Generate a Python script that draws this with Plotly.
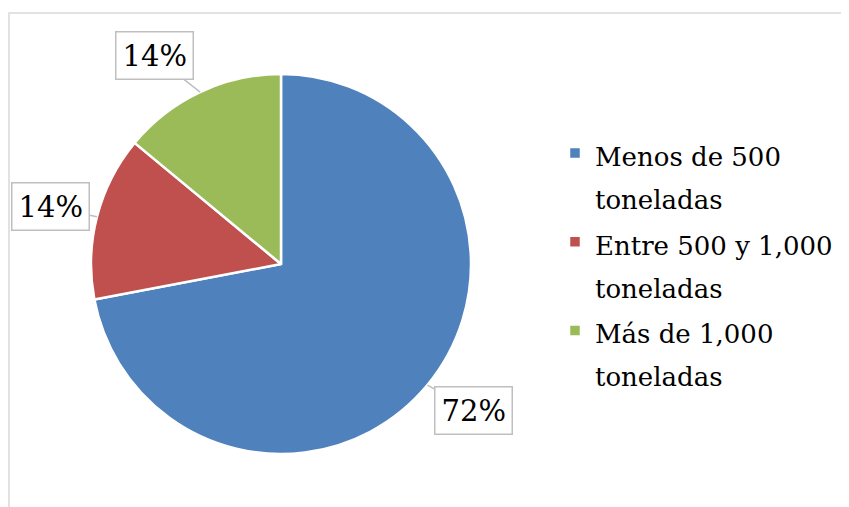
import math
import plotly.graph_objects as go

categories = ["Menos de 500<br>toneladas", "Entre 500 y 1,000<br>toneladas", "Más de 1,000<br>toneladas"]
values = [72, 14, 14]
colors = ["#4F81BD", "#C0504D", "#9BBB59"]

W, H = 849, 507
OFF = 8  # page body margin
# pie geometry (pixels, figure coords)
cx, cy, r = 281 - OFF, 264 - OFF, 190
dom_x = [(cx - r) / W, (cx + r) / W]
dom_y = [1 - (cy + r) / H, 1 - (cy - r) / H]

FONT = "DejaVu Serif"
LEG_SIZE = 26

legend_labels = [f"<span style='font-size:{LEG_SIZE}px'>{c}</span>" for c in categories]

fig = go.Figure()
fig.add_trace(go.Pie(
    labels=legend_labels, values=values, sort=False, direction="clockwise", rotation=0,
    marker=dict(colors=colors, line=dict(color="white", width=2.5)),
    textinfo="none", hoverinfo="percent",
    domain=dict(x=dom_x, y=dom_y),
))

# callout labels
total = sum(values)
cum = 0
for v in values:
    mid = (cum + v / 2) / total * 2 * math.pi
    cum += v
    dx, dy = math.sin(mid), -math.cos(mid)  # pixel direction (y down)
    px, py = cx + dx * r, cy + dy * r
    fig.add_annotation(
        x=px / W, y=1 - py / H, xref="paper", yref="paper",
        text=f"{round(v / total * 100)}%", showarrow=True, arrowhead=0,
        arrowwidth=1.5, arrowcolor="#BFBFBF",
        ax=math.copysign(46, dx), ay=dy * 40,
        bgcolor="white", bordercolor="#BFBFBF", borderwidth=1.5, borderpad=6,
        font=dict(family=FONT, size=29, color="black"),
    )

fig.add_shape(type="rect", xref="paper", yref="paper",
              x0=(9 - OFF) / W, x1=1.05, y0=-0.05, y1=1 - (13 - OFF) / H,
              line=dict(color="#D9D9D9", width=1.5), fillcolor="rgba(0,0,0,0)", layer="below")

fig.update_layout(
    width=W, height=H, margin=dict(l=0, r=0, t=0, b=0),
    paper_bgcolor="white", plot_bgcolor="white",
    showlegend=True,
    legend=dict(x=(555 - OFF) / W, y=1 - (125 - OFF) / H, xanchor="left", yanchor="top",
                valign="top",
                font=dict(family=FONT, size=33, color="black"),
                bgcolor="rgba(0,0,0,0)"),
)
fig.write_html("out.html")
